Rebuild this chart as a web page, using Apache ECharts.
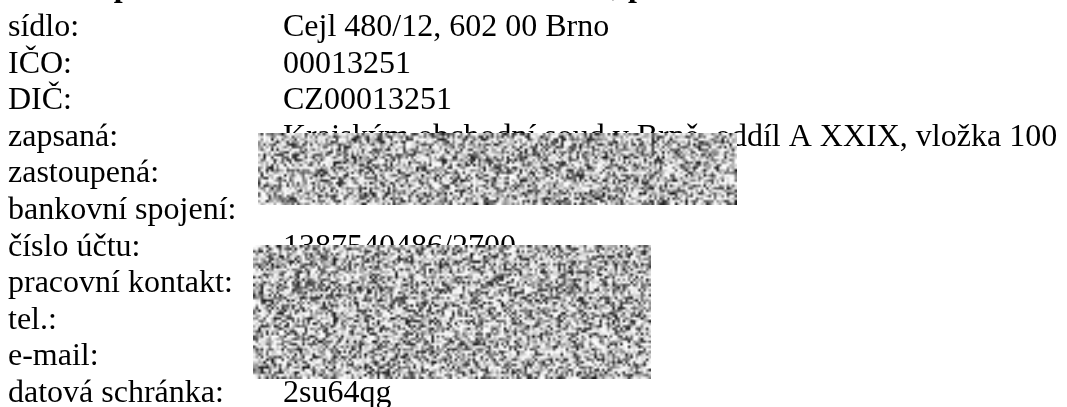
<!DOCTYPE html>
<html><head><meta charset="utf-8">
<script src="https://cdn.jsdelivr.net/npm/echarts@6/dist/echarts.min.js"></script>
<style>html,body{margin:0;padding:0;background:#fff;overflow:hidden}#c{width:1067px;height:407px}</style>
</head><body><div id="c"></div>
<script>
// ---- content ----
const labels = ['sídlo:', 'IČO:', 'DIČ:', 'zapsaná:', 'zastoupená:', 'bankovní spojení:', 'číslo účtu:', 'pracovní kontakt:', 'tel.:', 'e-mail:', 'datová schránka:'];
const values = ['Cejl 480/12, 602 00 Brno', '00013251', 'CZ00013251', 'Krajským obchodní soud v Brně, oddíl A XXIX, vložka 100', '', '', '1387540486/2700', '', '', '', '2su64qg'];
const headingParts = ['Správa nemovitostí města Brna', ', právnická osoba'];

// ---- layout ----
const FONT = 'Liberation Serif, "Times New Roman", serif';
const SIZE = 32;
const LABEL_X = 8, VALUE_X = 283;
const FIRST_BASELINE = 34, STEP = 36.6, MID_OFF = 6.5;
const HEAD_X = [96, 612], HEAD_MID_Y = -12.5;
const redactionBoxes = [[258, 133, 737, 205], [253, 245, 651, 379]];
const GRAIN = 2.6;

function hash(x, y, s) {
  let n = Math.imul(x, 374761393) + Math.imul(y, 668265263) + Math.imul(s, 2246822519);
  n = Math.imul(n ^ (n >>> 13), 1274126177);
  n = n ^ (n >>> 16);
  return (n >>> 0) / 4294967295;
}
function noiseCanvas(w, h, seed) {
  const cw = Math.ceil(w / GRAIN), ch = Math.ceil(h / GRAIN);
  const c = document.createElement('canvas');
  c.width = cw; c.height = ch;
  const ctx = c.getContext('2d');
  const img = ctx.createImageData(cw, ch);
  for (let y = 0; y < ch; y++) for (let x = 0; x < cw; x++) {
    const v = hash(x, y, seed);
    const g = Math.round(255 - 235 * Math.pow(v, 1.8));
    const i = (y * cw + x) * 4;
    img.data[i] = img.data[i + 1] = img.data[i + 2] = g; img.data[i + 3] = 255;
  }
  ctx.putImageData(img, 0, 0);
  return c;
}

const elements = [];
labels.forEach((t, i) => {
  const y = FIRST_BASELINE + STEP * i - MID_OFF;
  elements.push({ type: 'text', x: LABEL_X, y: y, z: 1,
    style: { text: t, font: SIZE + 'px ' + FONT, fill: '#000', align: 'left', verticalAlign: 'middle' } });
  if (values[i]) elements.push({ type: 'text', x: VALUE_X, y: y, z: 1,
    style: { text: values[i], font: SIZE + 'px ' + FONT, fill: '#000', align: 'left', verticalAlign: 'middle' } });
});
headingParts.forEach((t, i) => {
  elements.push({ type: 'text', x: HEAD_X[i], y: HEAD_MID_Y, z: 1,
    style: { text: t, font: 'bold ' + SIZE + 'px ' + FONT, fill: '#000', align: 'left', verticalAlign: 'middle' } });
});
redactionBoxes.forEach((b, k) => {
  const w = b[2] - b[0], h = b[3] - b[1];
  elements.push({ type: 'image', x: b[0], y: b[1], z: 5,
    style: { image: noiseCanvas(w, h, k + 1), x: 0, y: 0, width: w, height: h } });
});

const chart = echarts.init(document.getElementById('c'), null, { renderer: 'canvas' });
chart.setOption({ backgroundColor: '#fff', animation: false, graphic: { elements: elements } });
</script>
</body></html>
